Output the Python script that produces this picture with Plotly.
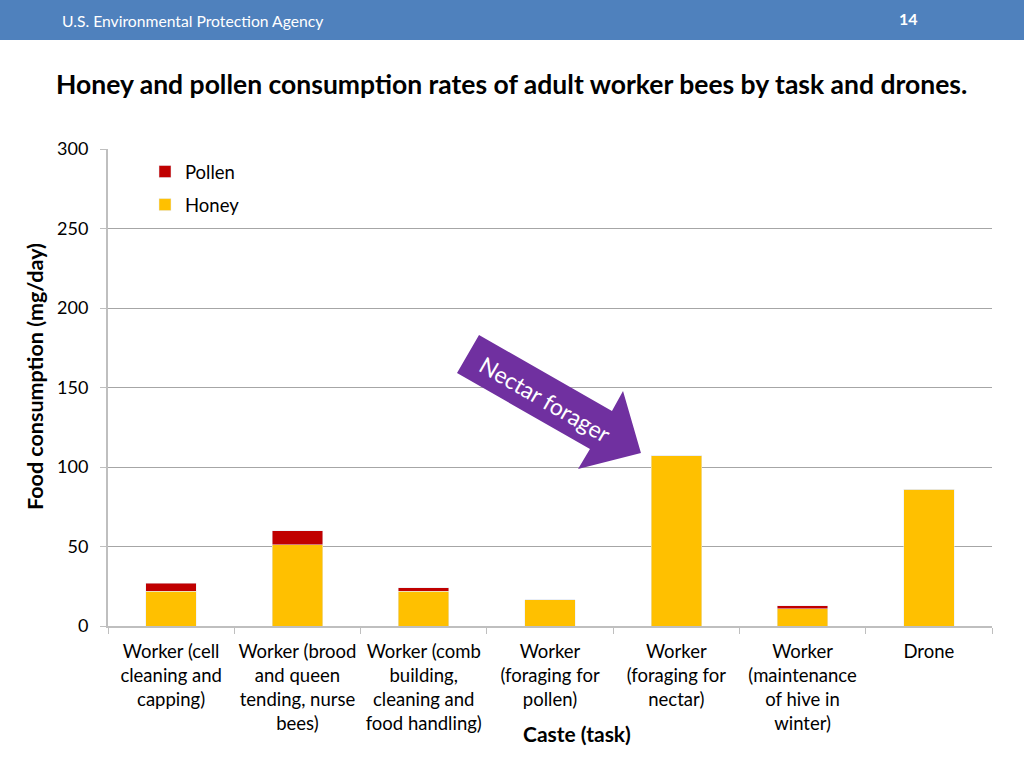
import plotly.graph_objects as go

categories = [
    "Worker (cell<br>cleaning and<br>capping)",
    "Worker (brood<br>and queen<br>tending, nurse<br>bees)",
    "Worker (comb<br>building,<br>cleaning and<br>food handling)",
    "Worker<br>(foraging for<br>pollen)",
    "Worker<br>(foraging for<br>nectar)",
    "Worker<br>(maintenance<br>of hive in<br>winter)",
    "Drone",
]
honey = [22, 51, 22, 16.4, 107, 10.7, 86]
pollen = [5, 9, 2, 0, 0, 2, 0]
y_ticks = [0, 50, 100, 150, 200, 250, 300]

W, H = 1024, 768
L, R, T, B = 108, 992, 149, 626  # plot area in pixels

def px(x):
    return (x - L) / (R - L)

def py(y):
    return (B - y) / (B - T)

FONT = "Lato"

fig = go.Figure()
fig.add_trace(go.Bar(x=categories, y=honey, name="Honey", marker_color="#FFC000",
                     legendgroup="h", legendrank=2))
fig.add_trace(go.Bar(x=categories, y=pollen, name="Pollen", marker_color="#C00000",
                     legendgroup="p", legendrank=1))

# arrow polygon (pixel coords -> paper)
arrow_px = [(479, 335), (612, 411), (623, 391), (641, 453), (578, 469), (590, 449), (457, 373)]
path = "M " + " L ".join(f"{px(x):.4f},{py(y):.4f}" for x, y in arrow_px) + " Z"

shapes = [
    dict(type="rect", xref="paper", yref="paper", x0=px(0), x1=px(W), y0=py(0), y1=py(40),
         fillcolor="#4F81BD", line_width=0, layer="below"),
    dict(type="path", xref="paper", yref="paper", path=path, fillcolor="#7030A0",
         line=dict(color="#7030A0", width=0)),
]

annotations = [
    dict(text="U.S. Environmental Protection Agency", xref="paper", yref="paper",
         x=px(60), y=py(21), xanchor="left", yanchor="middle", showarrow=False,
         font=dict(family=FONT, size=15.7, color="white")),
    dict(text="<b>14</b>", xref="paper", yref="paper", x=px(908), y=py(18),
         xanchor="center", yanchor="middle", showarrow=False,
         font=dict(family=FONT, size=16, color="white")),
    dict(text="<b>Honey and pollen consumption rates of adult worker bees by task and drones.</b>",
         xref="paper", yref="paper", x=px(511), y=py(84), xanchor="center", yanchor="middle",
         showarrow=False, font=dict(family=FONT, size=26.5, color="black")),
    dict(text="<b>Caste (task)</b>", xref="paper", yref="paper", x=px(577), y=py(733),
         xanchor="center", yanchor="middle", showarrow=False,
         font=dict(family=FONT, size=21, color="black")),
    dict(text="<b>Food consumption (mg/day)</b>", xref="paper", yref="paper",
         x=px(35), y=py(377), xanchor="center", yanchor="middle", showarrow=False,
         textangle=-90, font=dict(family=FONT, size=21.5, color="black")),
    dict(text="Nectar forager", xref="paper", yref="paper", x=px(545), y=py(399),
         xanchor="center", yanchor="middle", showarrow=False, textangle=30,
         font=dict(family=FONT, size=23, color="white")),
]

fig.update_layout(
    width=W, height=H,
    margin=dict(l=L, r=W - R, t=T, b=H - B, autoexpand=False),
    paper_bgcolor="white", plot_bgcolor="white",
    barmode="stack", bargap=0.6,
    font=dict(family=FONT, size=18.5, color="black"),
    shapes=shapes, annotations=annotations,
    legend=dict(x=px(145), y=py(153), xanchor="left", yanchor="top",
                traceorder="grouped", tracegroupgap=6,
                font=dict(family=FONT, size=18.5, color="black"),
                bgcolor="rgba(0,0,0,0)", itemwidth=30),
    xaxis=dict(type="category", showline=True, linecolor="#BFBFBF", linewidth=2,
               ticks="outside", tickson="boundaries", ticklen=6, tickcolor="#BFBFBF",
               tickwidth=1, showgrid=False, tickangle=0, automargin=False,
               ticklabelstandoff=8,
               tickfont=dict(family=FONT, size=18.5, color="black")),
    yaxis=dict(range=[0, 300], tickvals=y_ticks, showline=True, linecolor="#BFBFBF",
               linewidth=2, ticks="outside", ticklen=6, tickcolor="#BFBFBF",
               showgrid=True, gridcolor="#A6A6A6", gridwidth=1, zeroline=False,
               automargin=False, ticklabelstandoff=8,
               tickfont=dict(family=FONT, size=18, color="black")),
)

fig.write_html("out.html", config={"displayModeBar": False},
               post_script="document.body.style.margin='0';")
